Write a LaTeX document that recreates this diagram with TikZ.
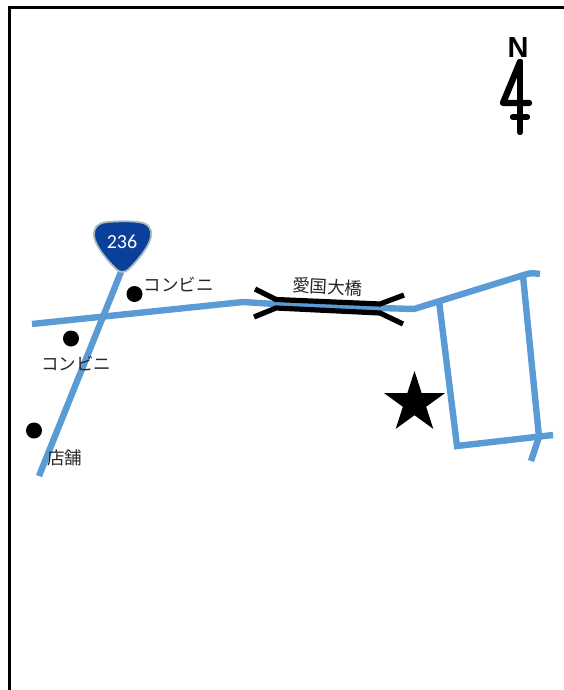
\documentclass[tikz,border=0pt]{standalone}
\usepackage{fontspec}
\setmainfont{Liberation Sans}
\newfontfamily\cjkfont{Noto Sans CJK JP}
\newfontfamily\numfont{Carlito}
\usetikzlibrary{shapes.geometric}
\definecolor{roadblue}{HTML}{5B9BD5}
\definecolor{shieldblue}{HTML}{0A3F9C}
\definecolor{shieldedge}{HTML}{A9BDBD}
\tikzset{
  x=1pt,y=-1pt,
  road/.style={draw=roadblue,line width=6.4pt,line join=miter},
  bridgeline/.style={draw=black,line width=5.2pt,line join=miter},
  shop/.style={circle,fill=black,minimum size=16pt,inner sep=0pt},
  jlabel/.style={font=\cjkfont\fontsize{17.5}{18}\selectfont,text=black!85,inner sep=0pt},
  northline/.style={draw=black,line width=6.4pt,line cap=round,line join=round},
}
\begin{document}
\begin{tikzpicture}
\useasboundingbox (0,0) rectangle (564,690);
% frame
\draw[black,line width=3.4pt] (9.5,690) -- (9.5,7.5) -- (564,7.5);
% roads
\draw[road] (121,272) -- (39,476);
\draw[road] (32,324) -- (243,302) -- (275,304) -- (380,308) -- (414,309) -- (527,274) .. controls (532,273) .. (540,274);
\draw[road] (439,301) -- (457,446) -- (553,435);
\draw[road] (523,276) -- (539,437) -- (531,461);
% bridge
\draw[bridgeline] (255,289) -- (276,299.5) -- (380,304) -- (404,295);
\draw[bridgeline] (254,317) -- (276,308) -- (380,313) -- (403,324);
\node[jlabel,rotate=-3] (bridge) at (327.5,286.5) {愛国大橋};
% shield
\fill[draw=shieldedge,line width=1.8pt,fill=shieldblue]
  (107,222) .. controls (120,221) and (130,221) .. (138,222)
  .. controls (149,223) and (152,229) .. (151,236)
  .. controls (150,245) and (140,258) .. (129,269)
  .. controls (125,273) and (120,273) .. (116,269)
  .. controls (105,258) and (95,245) .. (94,236)
  .. controls (93,229) and (97,223) .. (107,222) -- cycle;
\node[text=white,font=\numfont\fontsize{20}{20}\selectfont,inner sep=0pt] (route) at (122,242) {236};
% shops
\node[shop] (s1) at (134.5,294) {};
\node[shop] (s2) at (71,338.5) {};
\node[shop] (s3) at (34,430.5) {};
\node[jlabel] (l1) at (178.5,284) {コンビニ};
\node[jlabel] (l2) at (76,363.5) {コンビニ};
\node[jlabel] (l3) at (64.5,457.5) {店舗};
% destination
\node[star,star points=5,star point ratio=2.618,fill=black,minimum size=64pt,inner sep=0pt] (dest) at (414.5,403) {};
% north
\node[font=\bfseries\fontsize{29}{29}\selectfont,inner sep=0pt] (north) at (518,48) {N};
\coordinate (ntip) at (520,62);
\coordinate (nend) at (520,132);
\coordinate (nleft) at (503,103);
\coordinate (nright) at (529,103);
\draw[northline] (ntip) -- (nend);
\draw[northline] (ntip) -- (nleft) -- (nright);
\draw[northline] (513,117) -- (527,117);
\end{tikzpicture}
\end{document}
